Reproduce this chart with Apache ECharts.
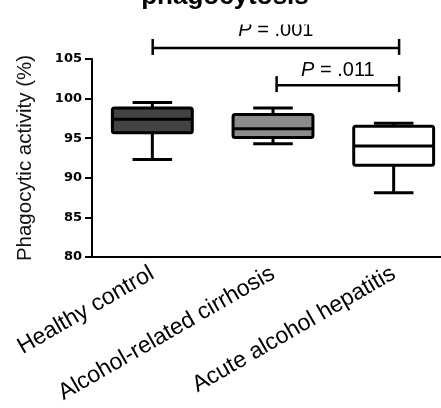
<!DOCTYPE html>
<html>
<head>
<meta charset="utf-8">
<script src="https://cdn.jsdelivr.net/npm/echarts@6/dist/echarts.min.js"></script>
<style>
  html, body { margin: 0; padding: 0; background: #fff; }
  #chart { width: 441px; height: 408px; }
</style>
</head>
<body>
<div id="chart"></div>
<script>
// Groups on the x axis
const categories = ['Healthy control', 'Alcohol-related cirrhosis', 'Acute alcohol hepatitis'];

// Box statistics per group: [min, Q1, median, Q3, max] (phagocytic activity, %)
const healthyStats   = [92.3, 95.7, 97.4, 98.8, 99.5];
const cirrhosisStats = [94.3, 95.1, 96.2, 98.0, 98.8];
const hepatitisStats = [88.1, 91.6, 94.0, 96.5, 96.9];

// Y axis ticks
const yTicks = [80, 85, 90, 95, 100, 105];

// Significance brackets: start group, end group, bracket height (axis units), p value
const bracketFrom   = [0, 1];
const bracketTo     = [2, 2];
const bracketLevel  = [106.4, 101.7];
const bracketPValue = ['.001', '.011'];

const boxFills = ['#434343', '#8b8b8b', '#ffffff'];
const FONT = 'Liberation Sans, Arial, Helvetica, sans-serif';

const boxData = [healthyStats, cirrhosisStats, hepatitisStats].map((s, i) => [i, ...s]);
const bracketData = bracketFrom.map((f, i) => [f, bracketTo[i], bracketLevel[i], i]);

function renderBox(params, api) {
  const i = api.value(0);
  const band = api.size([1, 0])[0];
  const yMin = api.coord([i, api.value(1)])[1];
  const yQ1 = api.coord([i, api.value(2)])[1];
  const yMed = api.coord([i, api.value(3)])[1];
  const yQ3 = api.coord([i, api.value(4)])[1];
  const yMax = api.coord([i, api.value(5)])[1];
  const x = api.coord([i, api.value(3)])[0];
  const hb = band * 0.331;
  const hc = band * 0.164;
  const ls = { stroke: '#000', lineWidth: 3 };
  return {
    type: 'group',
    children: [
      { type: 'line', shape: { x1: x, y1: yMax, x2: x, y2: yQ3 }, style: ls },
      { type: 'line', shape: { x1: x, y1: yQ1, x2: x, y2: yMin }, style: ls },
      { type: 'line', shape: { x1: x - hc, y1: yMax, x2: x + hc, y2: yMax }, style: ls },
      { type: 'line', shape: { x1: x - hc, y1: yMin, x2: x + hc, y2: yMin }, style: ls },
      {
        type: 'rect',
        shape: { x: x - hb, y: yQ3, width: hb * 2, height: yQ1 - yQ3, r: 2 },
        style: { fill: boxFills[params.dataIndex], stroke: '#000', lineWidth: 3, lineJoin: 'round' }
      },
      { type: 'line', shape: { x1: x - hb, y1: yMed, x2: x + hb, y2: yMed }, style: ls }
    ]
  };
}

function renderBracket(params, api) {
  const band = api.size([1, 0])[0];
  const lvl = api.value(2);
  const a = api.coord([api.value(0), lvl]);
  const b = api.coord([api.value(1), lvl]);
  const first = params.dataIndex === 0;
  const x1 = a[0] + band * (first ? 0.003 : 0.03);
  const x2 = b[0] + band * 0.045;
  const y = a[1];
  const ls = { stroke: '#000', lineWidth: 2.5 };
  return {
    type: 'group',
    children: [
      { type: 'line', shape: { x1: x1, y1: y, x2: x2, y2: y }, style: ls },
      { type: 'line', shape: { x1: x1, y1: y - 9, x2: x1, y2: y + 7 }, style: ls },
      { type: 'line', shape: { x1: x2, y1: y - 9, x2: x2, y2: y + 7 }, style: ls },
      {
        type: 'text',
        style: {
          text: '{i|P} = ' + bracketPValue[api.value(3)],
          x: (x1 + x2) / 2,
          y: y - (first ? 7 : 5),
          align: 'center',
          verticalAlign: 'bottom',
          fontSize: 20,
          fontFamily: FONT,
          fill: '#000',
          rich: { i: { fontStyle: 'italic', fontSize: 20, fontFamily: FONT } }
        }
      }
    ]
  };
}

const chart = echarts.init(document.getElementById('chart'));
chart.setOption({
  animation: false,
  backgroundColor: '#fff',
  grid: { left: 92, top: 59, width: 362, height: 198, containLabel: false, outerBoundsMode: 'none' },
  xAxis: {
    type: 'category',
    data: categories,
    axisLine: { lineStyle: { color: '#000', width: 2 } },
    axisTick: { alignWithLabel: true, length: 6, lineStyle: { color: '#000', width: 2 } },
    axisLabel: { rotate: 30, margin: 15, color: '#000', fontSize: 23, fontFamily: FONT, interval: 0 },
    splitLine: { show: false }
  },
  yAxis: {
    type: 'value',
    min: yTicks[0],
    max: yTicks[yTicks.length - 1],
    interval: 5,
    name: 'Phagocytic activity (%)',
    nameLocation: 'middle',
    nameRotate: 90,
    nameGap: 56,
    nameTextStyle: { fontSize: 20.5, fontFamily: FONT, color: '#111' },
    axisLine: { show: true, lineStyle: { color: '#000', width: 2 } },
    axisTick: { show: true, length: 7, lineStyle: { color: '#000', width: 2 } },
    axisLabel: { margin: 10, color: '#000', fontSize: 13, fontWeight: 'bold', fontFamily: 'DejaVu Sans' },
    splitLine: { show: false }
  },
  series: [
    {
      type: 'custom',
      renderItem: renderBox,
      data: boxData,
      encode: { x: 0, y: [1, 2, 3, 4, 5] },
      z: 3
    },
    {
      type: 'custom',
      renderItem: renderBracket,
      data: bracketData,
      encode: { x: [0, 1], y: 2 },
      clip: false,
      z: 4
    }
  ],
  graphic: [
    {
      type: 'text',
      x: 225,
      y: 10,
      style: {
        text: 'phagocytosis',
        align: 'center',
        verticalAlign: 'bottom',
        fontSize: 26,
        fontWeight: 'bold',
        fontFamily: FONT,
        fill: '#000'
      },
      z: 10
    },
    {
      type: 'rect',
      shape: { x: 60, y: 13, width: 370, height: 11.5 },
      style: { fill: '#fff' },
      z: 100
    }
  ]
});
</script>
</body>
</html>
